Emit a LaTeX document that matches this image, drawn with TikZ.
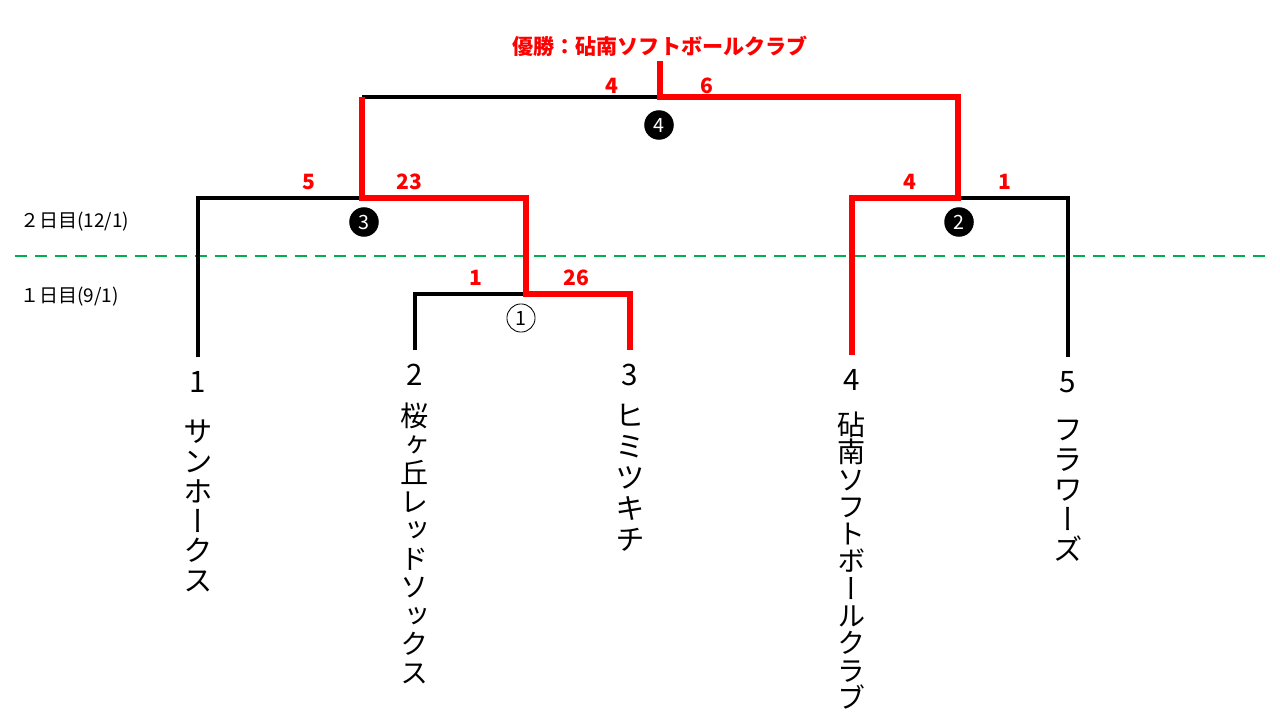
\documentclass[tikz,border=0pt]{standalone}
\usepackage{fontspec}
\usepackage{xcolor}
\usepackage{tikz}
\usetikzlibrary{positioning}
\newfontfamily\jp{Noto Sans CJK JP}
\newfontfamily\jpv[RawFeature=+vert]{Noto Sans CJK JP}
\definecolor{daygreen}{RGB}{0,176,80}

\begin{document}
\begin{tikzpicture}[
  x=0.025cm, y=-0.025cm,
  lose/.style={draw=black, line width=2.85pt},
  win/.style={draw=red, line width=3.6pt},
  dayline/.style={draw=daygreen, line width=2.1pt, dash pattern=on 8.5pt off 5.7pt},
  num/.style={font=\jp\fontsize{21}{24}\selectfont, inner sep=0pt, outer ysep=10pt},
  team/.style 2 args={font=\jpv\fontsize{#1}{#2}\selectfont, align=center, inner sep=0pt},
  score/.style={font=\jp\bfseries\fontsize{15}{18}\selectfont, text=red, inner sep=0pt},
  champ/.style={font=\jp\bfseries\fontsize{15}{18}\selectfont, text=red, inner sep=3pt},
  game/.style={circle, fill=black, text=white, minimum size=21pt, inner sep=0pt, font=\jp\fontsize{14}{16}\selectfont},
  firstgame/.style={circle, draw=black, line width=0.6pt, minimum size=20pt, inner sep=0pt, font=\jp\fontsize{14}{16}\selectfont},
  day/.style={font=\jp\fontsize{13.5}{16}\selectfont, anchor=west, inner sep=0pt}
]
  \useasboundingbox (0,0) rectangle (1280,720);

  \coordinate (m1) at (526,294);
  \coordinate (m3) at (362,198);
  \coordinate (m2) at (958,198);
  \coordinate (m4) at (660,97);

  \node[num] (n1) at (198,382) {1};
  \node[num] (n2) at (415,375) {2};
  \node[num] (n3) at (630,375) {3};
  \node[num] (n4) at (852,380) {4};
  \node[num] (n5) at (1068,382) {5};

  \node[team={21}{21.3}, below=9pt of n1] (t1) {サ\\ン\\ホ\\ー\\ク\\ス};
  \node[team={20}{20.3}, below=2pt of n2] (t2) {桜\\ヶ\\丘\\レ\\ッ\\ド\\ソ\\ッ\\ク\\ス};
  \node[team={21}{22}, below=3pt of n3] (t3) {ヒ\\ミ\\ツ\\キ\\チ};
  \node[team={20}{19.4}, below=5pt of n4] (t4) {砧\\南\\ソ\\フ\\ト\\ボ\\ー\\ル\\ク\\ラ\\ブ};
  \node[team={21}{21.3}, below=9pt of n5] (t5) {フ\\ラ\\ワ\\ー\\ズ};

  \node[champ] (champ) at (660,46) {優勝：砧南ソフトボールクラブ};

  \node[day] (d2) at (20,222) {２日目(12/1)};
  \node[day] (d1) at (20,297) {１日目(9/1)};
  \draw[dayline] (15,256) -- (1270,256);

  \draw[lose] (n1.north) |- (m3);
  \draw[lose] (n2.north) |- (m1);
  \draw[lose] (n5.north) |- (m2);
  \draw[lose] (m3 |- m4) -- (m4);

  \draw[win] (n3.north) |- (m1) |- (m3) -- (m3 |- m4);
  \draw[win] (n4.north) |- (m2) |- (m4) -- (champ.south);

  \node[score] (s1l) at ([shift={(-50,-16)}]m1) {1};
  \node[score] (s1r) at ([shift={(50,-16)}]m1) {26};
  \node[score] (s3l) at ([shift={(-53,-16)}]m3) {5};
  \node[score] (s3r) at ([shift={(47,-16)}]m3) {23};
  \node[score] (s2l) at ([shift={(-48,-16)}]m2) {4};
  \node[score] (s2r) at ([shift={(47,-16)}]m2) {1};
  \node[score] (s4l) at ([shift={(-48,-11)}]m4) {4};
  \node[score] (s4r) at ([shift={(47,-11)}]m4) {6};

  \node[firstgame] (g1) at ([shift={(-5,24)}]m1) {1};
  \node[game] (g3) at ([shift={(2,24)}]m3) {3};
  \node[game] (g2) at ([shift={(1,24)}]m2) {2};
  \node[game] (g4) at ([shift={(-1,28)}]m4) {4};
\end{tikzpicture}
\end{document}
